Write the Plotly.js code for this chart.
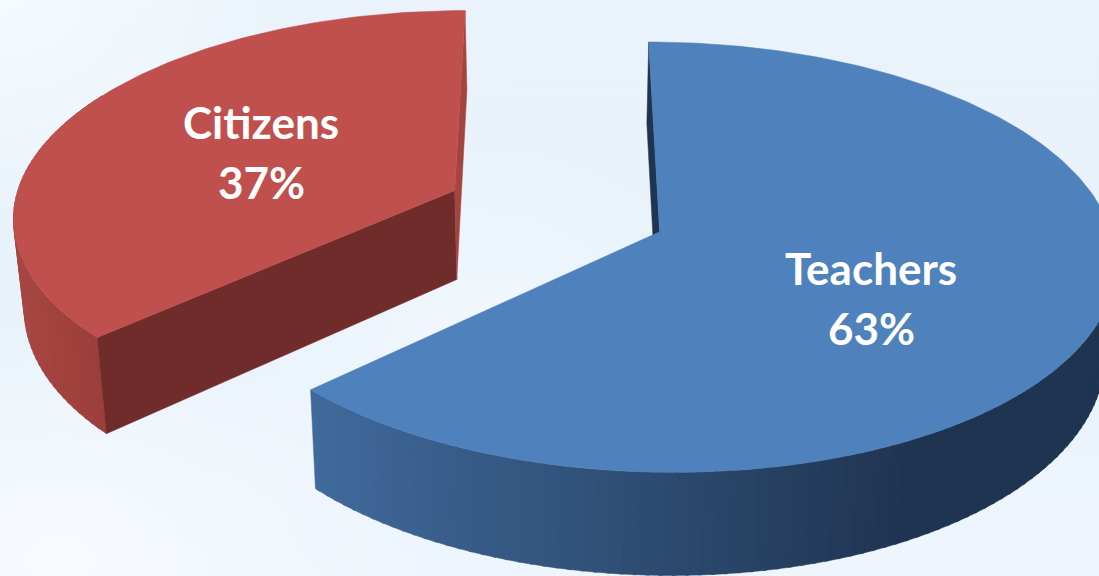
<!DOCTYPE html>
<html>
<head>
<meta charset="utf-8">
<script src="https://cdn.plot.ly/plotly-3.0.1.min.js"></script>
<style>
html,body{margin:0;padding:0;width:1099px;height:576px;overflow:hidden;
background:
 radial-gradient(ellipse 300px 220px at 0px 0px,#f6fbff 0%,rgba(246,251,255,0) 100%),
 radial-gradient(ellipse 380px 240px at 60px 560px,#f7fbff 0%,rgba(247,251,255,0) 100%),
 radial-gradient(ellipse 260px 200px at 480px 340px,#f1f8fe 0%,rgba(241,248,254,0) 100%),
 linear-gradient(180deg,#eaf3fb 0%,#e8f2fa 50%,#eef5fd 100%);}
#chart{width:1099px;height:576px;}
svg text{font-variant-ligatures:none;}
</style>
</head>
<body>
<div id="chart"></div>
<script>
// ---- data ----
var categories = ['Teachers', 'Citizens'];
var shares = [63, 37];
var topColors = ['#4f81bd', '#c0504d'];
var cutColors = ['#1f3450', '#6f2c2a'];
var rimLeftColors = [[64, 106, 156], [166, 70, 66]];
var rimRightColors = [[31, 52, 80], [156, 62, 59]];
var labelSpots = [[871, 268, 328], [261, 122, 182]];
var radii = [1, 0.99];

// ---- perspective of the tilted pie ----
var VX = 556, OY = 233, K = 452, M = 212.5, P = 0.118, H = 91, LEAN = 0.02;
var EXPLODE = 0.25, CY = 0.105, CITIZEN_EDGE_NUDGE = 0.7;

function project(X, Y, down) {
  var w = 1 + P * Y;
  var sx = VX + K * X / w;
  var sy = OY - M * Y / w;
  if (down) { sx = VX + (sx - VX) * (1 - LEAN); sy += H / w; }
  return [sx, sy];
}
function rimPoint(c, r, deg, down) {
  var a = deg * Math.PI / 180;
  return project(c[0] + r * Math.sin(a), c[1] + r * Math.cos(a), down);
}
function poly(pts, color) {
  var xs = pts.map(function (p) { return p[0]; });
  var ys = pts.map(function (p) { return p[1]; });
  xs.push(xs[0]); ys.push(ys[0]);
  return {x: xs, y: ys, mode: 'lines', fill: 'toself', fillcolor: color,
          line: {color: color, width: 0.5}, hoverinfo: 'skip', showlegend: false};
}
function mix(a, b, t) {
  t = Math.max(0, Math.min(1, t));
  return 'rgb(' + a.map(function (v, i) { return Math.round(v + (b[i] - v) * t); }).join(',') + ')';
}

var total = shares.reduce(function (s, v) { return s + v; }, 0);
var traces = [];
var tops = [];
var start = 0;
categories.forEach(function (name, i) {
  var sweep = 360 * shares[i] / total;
  var end = start + sweep;
  var mid = (start + end) / 2 * Math.PI / 180;
  var c = [EXPLODE * Math.sin(mid), CY + EXPLODE * Math.cos(mid)];
  var r = radii[i];
  var from = i === 1 ? start + CITIZEN_EDGE_NUDGE : start;
  var apex = project(c[0], c[1], false);
  var apexDown = project(c[0], c[1], true);

  if (i === 0) {
    traces.push(poly([rimPoint(c, r, start, false), rimPoint(c, r, start, true), apexDown, apex], cutColors[i]));
  }

  // curved rim, drawn in short strips so that its shade can change along x
  var first = i === 0 ? 85 : from, step = 1.5;
  var rimEnd = i === 0 ? end : 300;
  var left = i === 0 ? rimPoint(c, r, end, false)[0] : rimPoint(c, r, 270, false)[0];
  var right = i === 0 ? left + 600 : rimPoint(c, r, from, false)[0];
  for (var d = first; d < rimEnd; d += step) {
    var e = Math.min(d + step + 0.4, rimEnd);
    var a1 = rimPoint(c, r, d, false);
    var a2 = rimPoint(c, r, e, false);
    var t = ((a1[0] + a2[0]) / 2 - left) / (right - left);
    traces.push(poly([a1, a2, rimPoint(c, r, e, true), rimPoint(c, r, d, true)], mix(rimLeftColors[i], rimRightColors[i], t)));
  }

  if (i === 1) {
    traces.push(poly([rimPoint(c, r, from, false), rimPoint(c, r, from, true), apexDown, apex], cutColors[i]));
    traces.push(poly([rimPoint(c, r, end, false), rimPoint(c, r, end, true), apexDown, apex], '#a34440'));
  }

  // flat top of the slice
  var pts = [apex];
  for (var q = from; q <= end + 0.001; q += 1) { pts.push(rimPoint(c, r, q, false)); }
  pts.push(rimPoint(c, r, end, false));
  tops.push(poly(pts, topColors[i]));
  start = end;
});
traces = traces.concat(tops);

var annotations = [];
categories.forEach(function (name, i) {
  var s = labelSpots[i];
  [[name, s[1]], [shares[i] + '%', s[2]]].forEach(function (row) {
    annotations.push({x: s[0], y: row[1], xref: 'x', yref: 'y', text: row[0], showarrow: false,
      xanchor: 'center', yanchor: 'middle',
      font: {family: 'Lato, "Open Sans", sans-serif', size: 44, color: '#ffffff', weight: 700}});
  });
});

var layout = {
  width: 1099, height: 576,
  margin: {l: 0, r: 0, t: 0, b: 0},
  paper_bgcolor: 'rgba(0,0,0,0)', plot_bgcolor: 'rgba(0,0,0,0)',
  xaxis: {range: [0, 1099], visible: false, fixedrange: true},
  yaxis: {range: [576, 0], visible: false, fixedrange: true},
  showlegend: false,
  annotations: annotations
};
Plotly.newPlot('chart', traces, layout, {displayModeBar: false, staticPlot: true});
</script>
</body>
</html>
